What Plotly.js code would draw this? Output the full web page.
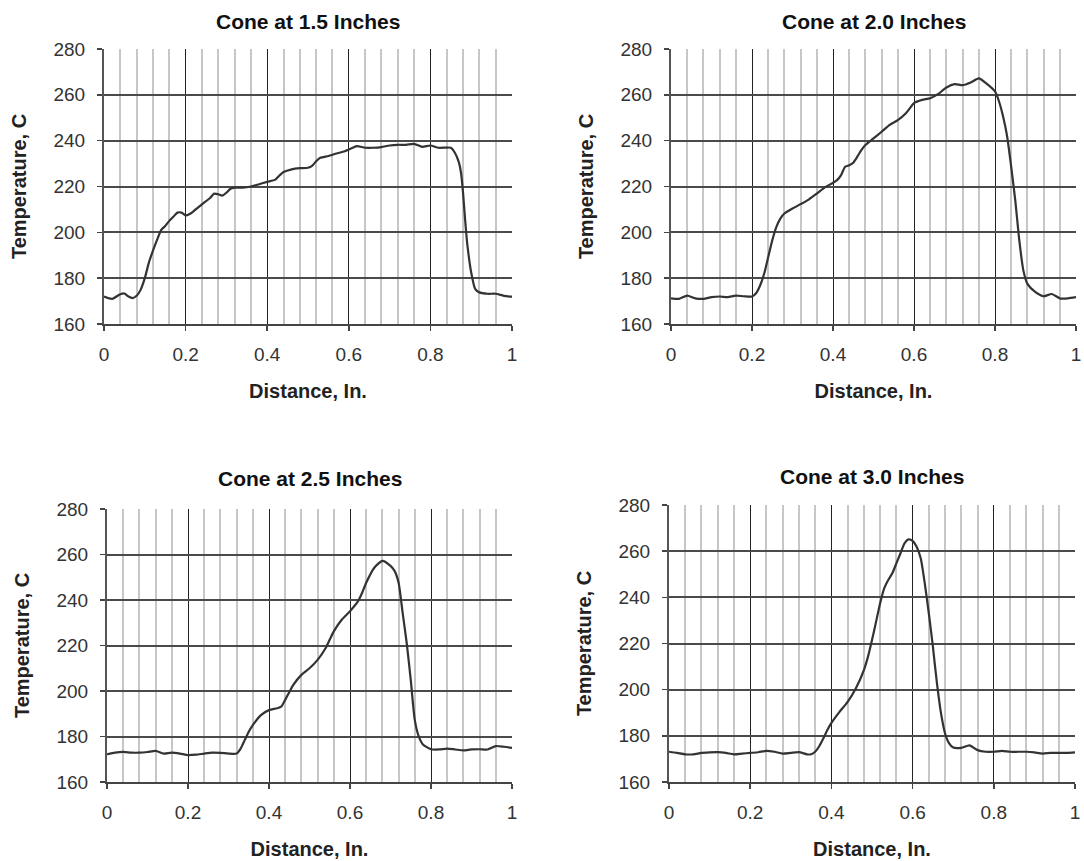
<!DOCTYPE html>
<html>
<head>
<meta charset="utf-8">
<script src="https://cdn.plot.ly/plotly-3.0.1.min.js"></script>
<style>html,body{margin:0;padding:0;background:#fff;}#chart{width:1084px;height:861px;}</style>
</head>
<body>
<div id="chart"></div>
<script>
// ---- Data ----
const panelTitles = ["Cone at 1.5 Inches", "Cone at 2.0 Inches", "Cone at 2.5 Inches", "Cone at 3.0 Inches"];
const xTitle = "Distance, In.";
const yTitle = "Temperature, C";

const dist15 = [0,0.02,0.04,0.05,0.06,0.07,0.08,0.09,0.10,0.11,0.12,0.13,0.14,0.15,0.16,0.17,0.18,0.19,0.20,0.21,0.22,0.24,0.26,0.27,0.28,0.29,0.30,0.31,0.32,0.34,0.36,0.38,0.40,0.42,0.43,0.44,0.46,0.48,0.50,0.51,0.52,0.53,0.55,0.57,0.59,0.61,0.62,0.64,0.66,0.68,0.70,0.72,0.74,0.76,0.78,0.80,0.82,0.84,0.85,0.86,0.87,0.875,0.88,0.885,0.89,0.90,0.91,0.92,0.94,0.96,0.98,1.0];
const temp15 = [172,171,173,173.3,172,171.3,172.3,175,180,186.8,192,196.7,201,202.8,205,206.8,208.6,208.6,207.4,208,209.3,212.2,215,216.9,216.6,216,217.3,219,219.5,219.5,220,221,222,223,224.8,226.3,227.5,228,228.2,229,231,232.5,233.3,234.4,235.4,236.9,237.6,236.9,236.9,237.2,237.9,238.2,238.2,238.6,237.3,237.9,236.9,237,236.9,234.7,230.4,226,217.3,205.7,195.5,182.5,175.2,173.8,173.2,173.2,172.3,171.9];

const dist20 = [0,0.02,0.04,0.06,0.08,0.10,0.12,0.14,0.16,0.18,0.20,0.21,0.22,0.23,0.24,0.25,0.26,0.27,0.28,0.30,0.32,0.34,0.36,0.38,0.40,0.41,0.42,0.43,0.44,0.45,0.46,0.47,0.48,0.50,0.52,0.54,0.56,0.58,0.59,0.60,0.62,0.64,0.66,0.68,0.70,0.72,0.74,0.76,0.78,0.80,0.81,0.82,0.83,0.84,0.85,0.86,0.87,0.88,0.90,0.92,0.94,0.96,0.98,1.0];
const temp20 = [171.2,171,172.4,171.2,171,171.7,172,171.7,172.4,172.1,172,173.4,176.8,181.9,189.2,196.5,202.3,206,208.2,210.4,212.3,214.3,216.9,219.6,221.6,222.8,225,228.6,229.3,230.4,233,235.9,238.1,241,243.9,246.9,249,252,254.2,256.4,257.8,258.5,260.4,263.2,264.7,264.2,265.4,267.2,264.8,261.5,257.1,250.5,241.8,228.6,214,196.5,183.4,177.5,173.9,172.1,173.1,171.2,171.2,171.7];

const dist25 = [0,0.02,0.04,0.06,0.08,0.10,0.12,0.14,0.16,0.18,0.20,0.22,0.24,0.26,0.28,0.30,0.32,0.33,0.34,0.35,0.36,0.38,0.40,0.42,0.43,0.44,0.46,0.48,0.50,0.52,0.54,0.55,0.56,0.58,0.60,0.62,0.63,0.64,0.66,0.68,0.70,0.71,0.72,0.73,0.74,0.75,0.76,0.77,0.78,0.80,0.82,0.84,0.86,0.88,0.90,0.92,0.94,0.96,0.98,1.0];
const temp25 = [172.2,172.9,173.2,172.9,172.9,173.2,173.7,172.5,172.9,172.5,171.8,172,172.5,172.9,172.8,172.5,172.5,174.7,178.4,182.1,185,189.4,191.6,192.4,193.1,196.1,202.7,207.1,210,213.7,218.9,222.6,226.2,231.4,235.1,239.5,243.2,247.6,254.2,257.2,255,252.8,247.6,234.3,221.1,204.9,187.2,179.9,176.5,174.4,174.3,174.7,174.3,173.9,174.3,174.4,174.3,175.8,175.5,175];

const dist30 = [0,0.02,0.04,0.06,0.08,0.10,0.12,0.14,0.16,0.18,0.20,0.22,0.24,0.26,0.28,0.30,0.32,0.34,0.35,0.36,0.37,0.38,0.39,0.40,0.42,0.44,0.46,0.48,0.49,0.50,0.51,0.52,0.53,0.54,0.55,0.56,0.57,0.58,0.59,0.60,0.61,0.62,0.63,0.64,0.65,0.66,0.67,0.68,0.69,0.70,0.72,0.74,0.76,0.78,0.80,0.82,0.84,0.86,0.88,0.90,0.92,0.94,0.96,0.98,1.0];
const temp30 = [173.1,172.6,172,172,172.6,172.8,172.9,172.6,172,172.3,172.6,172.9,173.5,173.1,172.3,172.6,172.9,172,172,173.1,175.5,178.8,182.5,185.6,190.4,194.7,200.5,208.5,214.2,221.5,229.4,237.4,243.9,247.5,250.4,254.7,259,263.4,265.1,264.5,261.9,256.9,246,233,218.6,202.7,189.7,181,176.7,174.9,174.8,175.9,173.8,173.1,173.1,173.5,173.1,173.1,173.1,172.8,172.3,172.6,172.6,172.6,172.8];

const series = [[dist15, temp15], [dist20, temp20], [dist25, temp25], [dist30, temp30]];

// ---- Layout geometry (pixels) ----
const W = 1084, H = 861;
const boxes = [
  {l:104, r:512, t:49, b:324, titleY:21},
  {l:671, r:1076, t:49, b:324, titleY:21},
  {l:107, r:512, t:509, b:782, titleY:478},
  {l:669, r:1075, t:505, b:782, titleY:476}
];

const FONT = "Liberation Sans, Arial, Helvetica, sans-serif";
const traces = [];
const layout = {
  width: W, height: H,
  margin: {l:0, r:0, t:0, b:0},
  paper_bgcolor: "#fff", plot_bgcolor: "#fff",
  showlegend: false,
  font: {family: FONT, color: "#222"},
  annotations: []
};

boxes.forEach((bx, i) => {
  const n = i === 0 ? "" : String(i + 1);
  traces.push({
    x: series[i][0], y: series[i][1],
    type: "scatter", mode: "lines",
    line: {color: "#333", width: 2.2, shape: "spline", smoothing: 0.6},
    xaxis: "x" + n, yaxis: "y" + n,
    hoverinfo: "skip"
  });
  layout["xaxis" + n] = {
    domain: [bx.l / W, bx.r / W],
    anchor: "y" + n,
    range: [0, 1], dtick: 0.2, tick0: 0,
    showgrid: true, gridcolor: "#222", gridwidth: 1,
    minor: {dtick: 0.04, tick0: 0, showgrid: true, gridcolor: "#c6c6c6", gridwidth: 2, ticks: ""},
    showline: true, linecolor: "#444", linewidth: 2,
    ticks: "outside", ticklen: 5, tickwidth: 1.5, tickcolor: "#444",
    ticklabelstandoff: 7,
    ticklabeloverflow: "allow",
    tickfont: {family: FONT, size: 19, color: "#333"},
    zeroline: false, fixedrange: true,
    title: {text: xTitle, font: {family: FONT, size: 20, color: "#222", weight: "bold"}, standoff: 20}
  };
  layout["yaxis" + n] = {
    domain: [1 - bx.b / H, 1 - bx.t / H],
    anchor: "x" + n,
    range: [160, 280], dtick: 20, tick0: 160,
    showgrid: true, gridcolor: "#4a4a4a", gridwidth: 2,
    showline: true, linecolor: "#555", linewidth: 2,
    ticks: "outside", ticklen: 5, tickwidth: 1.5, tickcolor: "#444",
    ticklabelstandoff: 8,
    tickfont: {family: FONT, size: 19, color: "#333"},
    zeroline: false, fixedrange: true,
    title: {text: yTitle, font: {family: FONT, size: 20, color: "#222", weight: "bold"}, standoff: 21}
  };
  layout.annotations.push({
    text: panelTitles[i],
    xref: "paper", yref: "paper",
    x: (bx.l + bx.r) / 2 / W, y: 1 - bx.titleY / H,
    xanchor: "center", yanchor: "middle",
    showarrow: false,
    font: {family: FONT, size: 21, color: "#111", weight: "bold"}
  });
});

Plotly.newPlot("chart", traces, layout, {displayModeBar: false, staticPlot: true});
</script>
</body>
</html>
